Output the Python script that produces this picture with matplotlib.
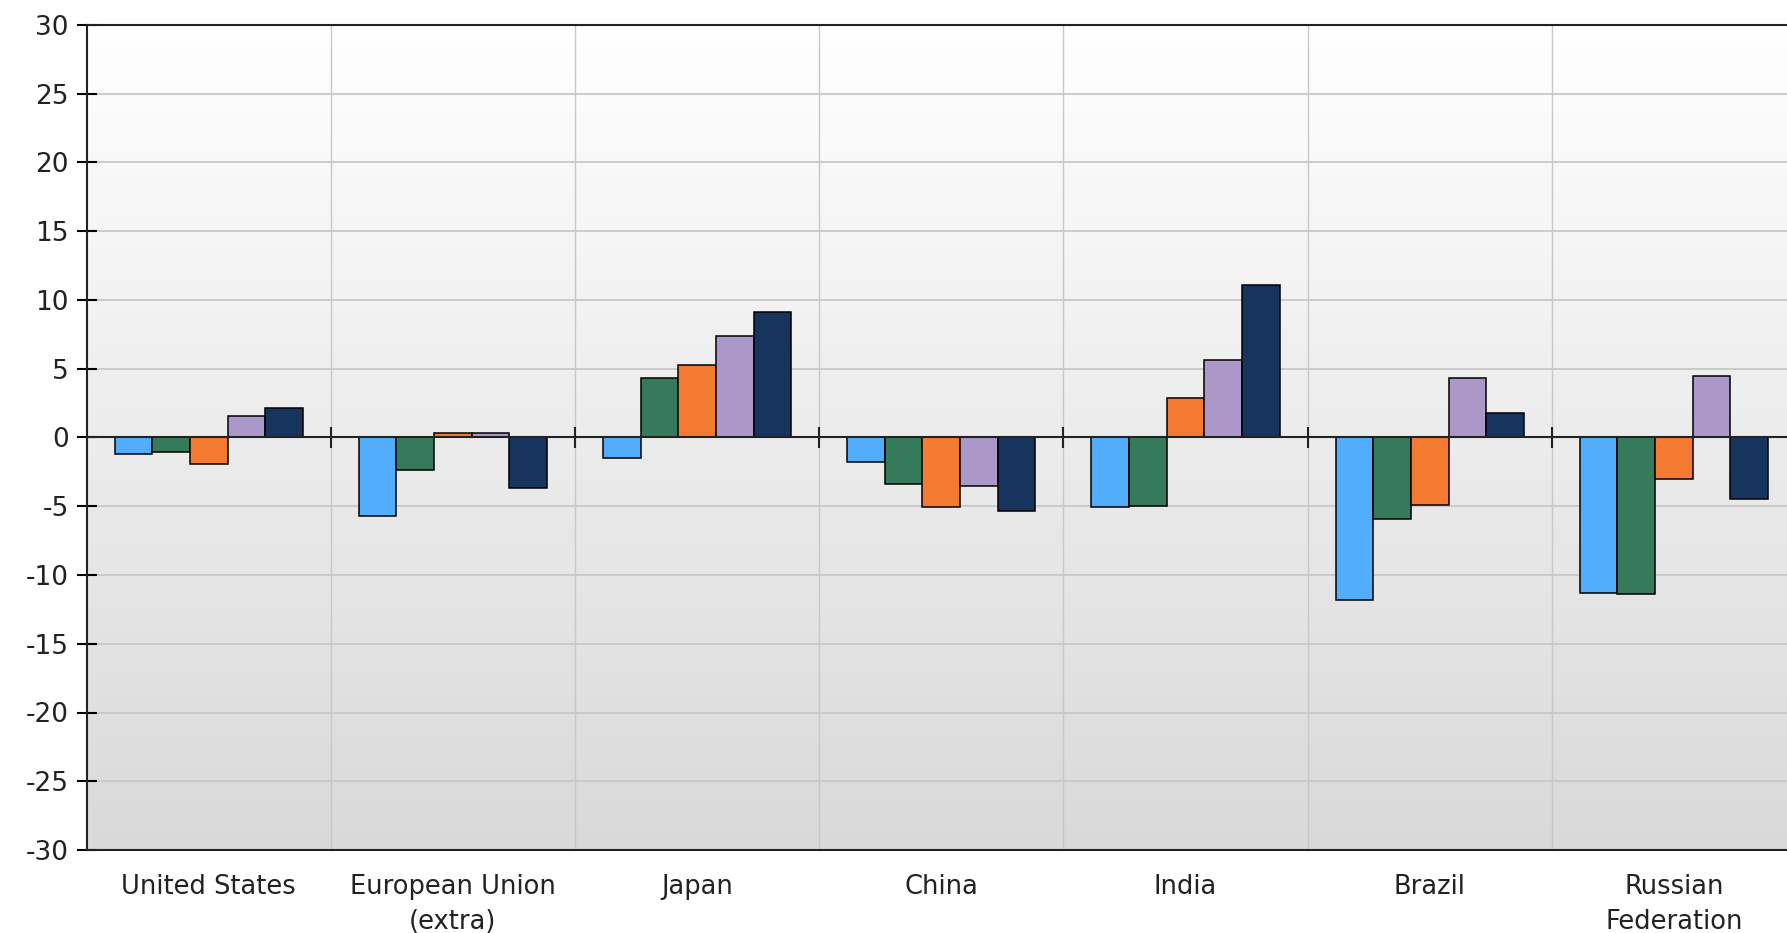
import numpy as np
import matplotlib
matplotlib.use("Agg")
import matplotlib.pyplot as plt
from matplotlib.colors import LinearSegmentedColormap

plt.rcParams["axes.unicode_minus"] = False

countries = ["United States", "European Union\n(extra)", "Japan", "China",
             "India", "Brazil", "Russian\nFederation"]
s1 = [-1.2, -5.7, -1.5, -1.75, -5.05, -11.85, -11.3]
s2 = [-1.05, -2.35, 4.3, -3.35, -4.95, -5.9, -11.4]
s3 = [-1.9, 0.3, 5.3, -5.05, 2.85, -4.9, -3.0]
s4 = [1.55, 0.3, 7.4, -3.5, 5.6, 4.3, 4.5]
s5 = [2.15, -3.65, 9.1, -5.35, 11.1, 1.75, -4.5]
series = [s1, s2, s3, s4, s5]
colors = ["#52AEFC", "#357A5B", "#F47A32", "#AB98C8", "#17345E"]

fig = plt.figure(figsize=(17.87, 9.33), dpi=100)
ax = fig.add_axes([86.6 / 1787, 83 / 933, 7 * 244.2 / 1787, 825 / 933])

x = np.arange(len(countries))
w = 0.154
for i, (vals, c) in enumerate(zip(series, colors)):
    ax.bar(x + (i - 2) * w, vals, w, color=c, edgecolor="black", linewidth=1.1, zorder=3)

ax.set_xlim(-0.5, len(countries) - 0.5)
ax.set_ylim(-30, 30)

# gradient background
grad = LinearSegmentedColormap.from_list("bg", ["#d9d9d9", "#ffffff"])
ax.imshow(np.linspace(0, 1, 256).reshape(-1, 1), cmap=grad, aspect="auto",
          extent=[-0.5, len(countries) - 0.5, -30, 30], origin="lower", zorder=0)

ax.set_yticks(np.arange(-30, 31, 5))
ax.grid(axis="y", color="#c8c8c8", linewidth=1.3, zorder=1)
bounds = np.arange(0.5, len(countries) - 0.5, 1)
ax.set_xticks(bounds, minor=True)
ax.grid(axis="x", which="minor", color="#c8c8c8", linewidth=1.0, zorder=1)
ax.set_xticks(x)
ax.set_xticklabels(countries, fontsize=18.5, color="#222222", linespacing=1.45)
ax.tick_params(axis="x", which="both", length=0, pad=17)
ax.tick_params(axis="y", direction="inout", length=14, width=1.5, labelsize=19,
               labelcolor="#222222", pad=6)

ax.axhline(0, color="#222222", linewidth=1.5, zorder=4)
ax.vlines(bounds, -0.75, 0.75, color="#222222", linewidth=1.5, zorder=4)

for side in ["left", "bottom", "top"]:
    ax.spines[side].set_linewidth(1.5)
    ax.spines[side].set_color("#222222")
ax.spines["right"].set_visible(False)

fig.savefig("out.png", dpi=100)
